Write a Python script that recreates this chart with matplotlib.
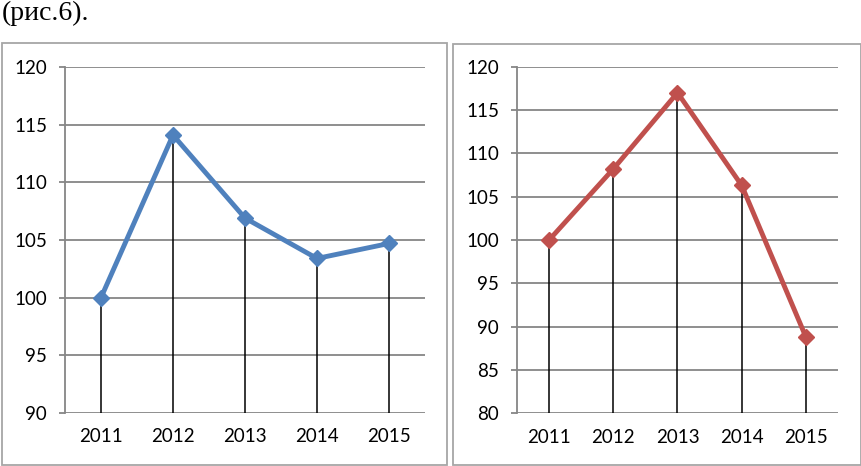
import matplotlib.pyplot as plt
from matplotlib.patches import Rectangle

# data
years = ['2011', '2012', '2013', '2014', '2015']
left_values = [100, 114.1, 106.9, 103.4, 104.7]
right_values = [100, 108.2, 117.0, 106.3, 88.8]
left_ticks = [90, 95, 100, 105, 110, 115, 120]
right_ticks = [80, 85, 90, 95, 100, 105, 110, 115, 120]

W, H = 862, 466
GRID = '#868686'


def px_box(x0, y0, x1, y1):
    # pixel box (top-left origin) -> figure fraction [l, b, w, h]
    return [x0 / W, (H - y1) / H, (x1 - x0) / W, (y1 - y0) / H]


def draw_panel(fig, box, values, ticks, color):
    ax = fig.add_axes(px_box(*box))
    xs = range(len(years))
    ax.set_xlim(-0.5, len(years) - 0.5)
    ax.set_ylim(ticks[0], ticks[-1])
    for t in ticks:
        ax.axhline(t, color=GRID, lw=1.3, zorder=1)
    ax.vlines(xs, ticks[0], values, color='black', lw=1.1, zorder=2)
    ax.plot(xs, values, color=color, lw=3.5, marker='D', ms=8,
            zorder=3, solid_joinstyle='round')
    ax.set_xticks(list(xs))
    ax.set_xticklabels(years)
    ax.set_yticks(ticks)
    for s in ['top', 'right', 'bottom']:
        ax.spines[s].set_visible(False)
    ax.spines['left'].set_color(GRID)
    ax.spines['left'].set_linewidth(1.3)
    ax.tick_params(axis='y', length=4, color=GRID, width=1.3, pad=9,
                   labelsize=13.5)
    ax.tick_params(axis='x', length=0, pad=11, labelsize=13.5)
    ax.set_facecolor('none')
    return ax


fig = plt.figure(figsize=(W / 100, H / 100), dpi=100)
plt.rcParams['font.family'] = ['Lato', 'DejaVu Sans']

# panel frames
for x0, y0, x1, y1 in [(2, 43, 447, 465), (453, 44, 861, 465)]:
    fig.patches.append(Rectangle((x0 / W, (H - y1) / H), (x1 - x0) / W,
                                 (y1 - y0) / H, transform=fig.transFigure,
                                 fill=False, edgecolor='#A6A6A6', lw=1.3))

draw_panel(fig, (65, 67, 425, 413), left_values, left_ticks, '#4F81BD')
draw_panel(fig, (517, 66.7, 838, 413.3), right_values, right_ticks, '#C0504D')

fig.text(2 / W, 1 - 1 / H, '(рис.6).', family='Liberation Serif',
         fontsize=20, va='top', ha='left')

fig.savefig('out.png', dpi=100)
